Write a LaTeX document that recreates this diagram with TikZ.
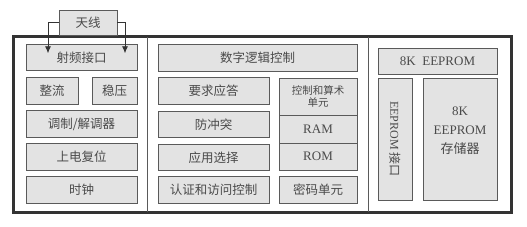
\documentclass[tikz,border=0pt]{standalone}
\usepackage{fontspec}
\setmainfont{Liberation Serif}
\newfontfamily\cjk{Noto Sans CJK SC}
\usetikzlibrary{arrows.meta}
\definecolor{boxfill}{HTML}{E3E3E3}
\definecolor{boxline}{HTML}{5A5A5A}
\definecolor{txt}{HTML}{4A4A4A}
\definecolor{frame}{HTML}{333333}
\tikzset{
  box/.style={draw=boxline, line width=0.9pt, fill=boxfill, inner sep=0pt, outer sep=0pt,
    text=txt, font=\cjk\fontsize{12.5}{14}\selectfont, align=center},
  arr/.style={draw=frame, line width=0.8pt, -{Latex[length=7pt,width=6pt]}},
}
\begin{document}
\begin{tikzpicture}[x=1pt,y=-1pt]
\useasboundingbox (0,0) rectangle (527,226);
% outer frame and dividers
\draw[frame, line width=3pt] (13.5,36.5) rectangle (511.5,212.5);
\draw[boxline, line width=1pt] (147,37) -- (147,212);
\draw[boxline, line width=1pt] (368,37) -- (368,212);
% antenna
\node[box, minimum width=58pt, minimum height=25pt] (ant) at (88,22.5) {天线};
% left column
\node[box, minimum width=111pt, minimum height=26.5pt] (rf) at (81.5,57.5) {射频接口};
\node[box, minimum width=52pt, minimum height=26.5pt] (zl) at (52,91) {整流};
\node[box, minimum width=45pt, minimum height=26.5pt] (wy) at (114.5,91) {稳压};
\node[box, minimum width=111pt, minimum height=26.5pt] (tz) at (81.5,124) {调制/解调器};
\node[box, minimum width=111pt, minimum height=26.5pt] (sd) at (81.5,157) {上电复位};
\node[box, minimum width=111pt, minimum height=26.5pt] (sz) at (81.5,190) {时钟};
% arrows
\draw[arr] (ant.west) -| ([xshift=22pt,yshift=-9pt]rf.north west);
\draw[arr] (ant.east) -| ([xshift=-12pt,yshift=-9pt]rf.north east);
% middle column
\node[box, minimum width=199pt, minimum height=26.5pt] (szlj) at (257.5,58) {数字逻辑控制};
\node[box, minimum width=111pt, minimum height=26.5pt] (yqyd) at (213.5,91) {要求应答};
\node[box, minimum width=111pt, minimum height=26.5pt] (fct) at (213.5,124.5) {防冲突};
\node[box, minimum width=111pt, minimum height=26.5pt] (yyxz) at (213.5,157.5) {应用选择};
\node[box, minimum width=111pt, minimum height=26.5pt] (rz) at (213.5,190) {认证和访问控制};
\node[box, minimum width=78pt, minimum height=37pt, font=\cjk\fontsize{10.5}{12}\selectfont] (kz) at (318,96.5) {控制和算术\\单元};
\node[box, minimum width=78pt, minimum height=28pt, font=\fontsize{13}{15}\selectfont] (ram) at (318,129) {RAM};
\node[box, minimum width=78pt, minimum height=27pt, font=\fontsize{13}{15}\selectfont] (rom) at (318,156.5) {ROM};
\node[box, minimum width=78pt, minimum height=26.5pt] (mm) at (318,190) {密码单元};
% right column
\node[box, minimum width=119pt, minimum height=26pt, font=\fontsize{13}{15}\selectfont] (ee) at (437.5,61) {8K\ \ EEPROM};
\node[box, minimum width=34pt, minimum height=122pt] (eeif) at (395,139) {};
\node[text=txt, font=\fontsize{12}{14}\selectfont, rotate=-90, inner sep=0pt] (eeift) at (eeif.center) {EEPROM {\cjk 接口}};
\node[box, minimum width=74pt, minimum height=122pt] (store) at (460,139) {};
\node[text=txt, font=\fontsize{13}{19}\selectfont, align=center, inner sep=0pt] (storet) at (460,131) {8K\\EEPROM\\{\cjk 存储器}};
\end{tikzpicture}
\end{document}
